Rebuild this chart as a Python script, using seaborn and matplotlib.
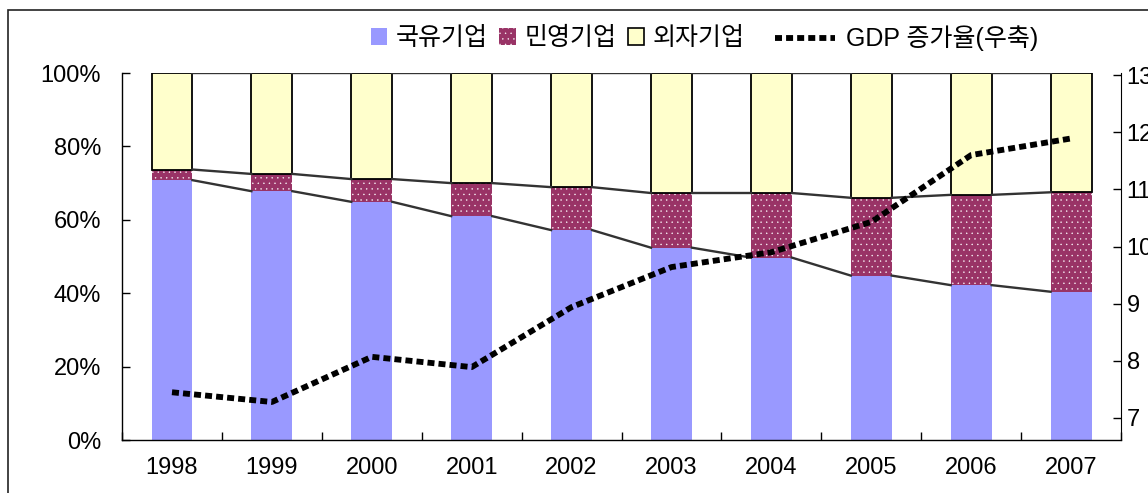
import numpy as np
import pandas as pd
import seaborn as sns
import matplotlib.pyplot as plt
from matplotlib.patches import Rectangle, Patch
from matplotlib.lines import Line2D

plt.rcParams['font.family'] = ['Liberation Sans', 'Noto Sans CJK KR']
plt.rcParams['hatch.color'] = 'white'
plt.rcParams['hatch.linewidth'] = 0.25

# data (share of enterprises, % / GDP growth, %)
years = ['1998', '1999', '2000', '2001', '2002', '2003', '2004', '2005', '2006', '2007']
state = [70.8, 67.8, 64.9, 61.0, 57.2, 52.4, 49.7, 44.8, 42.2, 40.4]
private = [2.9, 4.7, 6.2, 9.0, 11.7, 14.9, 17.6, 21.2, 24.6, 27.1]
foreign = [100 - s - p for s, p in zip(state, private)]
gdp = [7.45, 7.28, 8.07, 7.89, 8.94, 9.64, 9.9, 10.43, 11.6, 11.89]

df = pd.DataFrame({'year': years, 'state': state, 'private': private, 'foreign': foreign})
df['cum1'] = df['state']
df['cum2'] = df['state'] + df['private']

fig = plt.figure(figsize=(11.48, 4.93), dpi=100)
ax = fig.add_axes([0.1063, 0.1075, 0.8702, 0.7444])

bw = 0.41
sns.barplot(data=df, x='year', y='state', order=years, color='#9999FF',
            width=bw, ax=ax, linewidth=0, saturation=1)
sns.barplot(data=df, x='year', y='private', order=years, color='#993366',
            width=bw, ax=ax, bottom=df['cum1'], hatch='...', linewidth=0, saturation=1)
sns.barplot(data=df, x='year', y='foreign', order=years, color='#FFFFCC',
            width=bw, ax=ax, bottom=df['cum2'], edgecolor='black', linewidth=1.3, saturation=1)

# series lines between bars
xs = np.arange(len(years))
for col in ['cum1', 'cum2']:
    vals = df[col].values
    for i in range(len(years) - 1):
        ax.plot([xs[i] + bw / 2, xs[i + 1] - bw / 2], [vals[i], vals[i + 1]],
                color='#333333', lw=1.7, zorder=1)
for i in range(len(years) - 1):
    ax.plot([xs[i] + bw / 2, xs[i + 1] - bw / 2], [100, 100], color='#333333', lw=1.7, zorder=1)

ax.set_xlim(-0.5, len(years) - 0.5)
ax.set_ylim(0, 100)
ax.set_yticks(range(0, 101, 20))
ax.set_yticklabels([f'{v}%' for v in range(0, 101, 20)])
ax.set_xticks(np.arange(-0.5, len(years)), labels=[''] * (len(years) + 1))
ax.set_xticks(xs, labels=years, minor=True)
ax.tick_params(axis='x', which='major', direction='in', length=6, width=1)
ax.tick_params(axis='x', which='minor', length=0, pad=12, labelsize=17)
ax.tick_params(axis='y', direction='in', length=6, width=1, pad=15, labelsize=17)
ax.set_xlabel('')
ax.set_ylabel('')
ax.spines['top'].set_visible(False)
ax.spines['right'].set_visible(False)
for s in ['left', 'bottom']:
    ax.spines[s].set_linewidth(1.0)

ax2 = ax.twinx()
sns.lineplot(x=xs, y=gdp, ax=ax2, color='black', lw=4.2, dashes=False)
ax2.lines[-1].set_dashes((1.2, 0.7))
ax2.set_ylim(6.615, 13.035)
ax2.set_yticks(range(7, 14))
ax2.tick_params(axis='y', direction='in', length=6, width=1, pad=4, labelsize=17)
ax2.spines['top'].set_visible(False)
ax2.spines['left'].set_visible(False)
ax2.spines['bottom'].set_visible(False)
ax2.set_xlim(-0.5, len(years) - 0.5)

# legends
h_patches = [Patch(facecolor='#9999FF', edgecolor='none'),
             Patch(facecolor='#993366', hatch='...', linewidth=0),
             Patch(facecolor='#FFFFCC', edgecolor='black', linewidth=1.2)]
leg1 = fig.legend(h_patches, ['국유기업', '민영기업', '외자기업'], loc='center',
                  bbox_to_anchor=(0.486, 0.922), ncol=3, frameon=False, fontsize=18,
                  handlelength=0.65, handleheight=0.65, handletextpad=0.35,
                  columnspacing=0.45)
leg2 = fig.legend([Line2D([], [], color='black', lw=4.2, dashes=(1.2, 0.7))],
                  ['GDP 증가율(우축)'], loc='center', bbox_to_anchor=(0.79, 0.922),
                  frameon=False, fontsize=18, handlelength=2.4, handletextpad=0.45)

# outer chart border
fig.patches.append(Rectangle((8 / 1148, -0.1), 1.2, 1.1 - 10 / 493, transform=fig.transFigure,
                             fill=False, edgecolor='#222222', lw=1.2))

fig.savefig('out.png', dpi=100)
